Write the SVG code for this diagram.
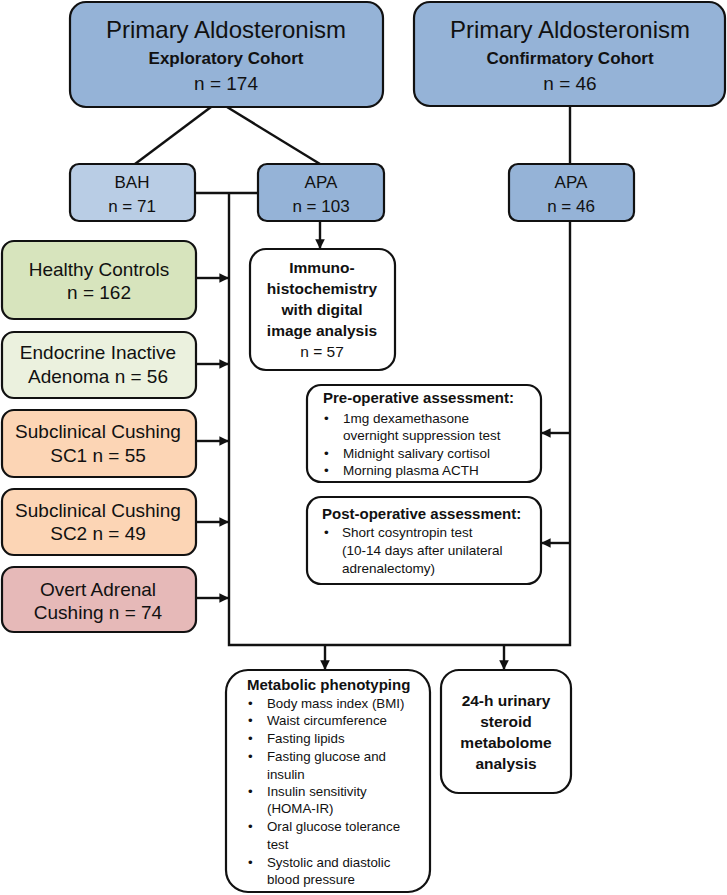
<svg xmlns="http://www.w3.org/2000/svg" width="727" height="895" viewBox="0 0 727 895">
<style>
.box{stroke:#111;stroke-width:2.2}
.t{font-family:"Liberation Sans",Arial,sans-serif;fill:#111}
.c{text-anchor:middle}
.b{font-weight:bold}
.ln{stroke:#111;stroke-width:2.4;fill:none}
</style>
<defs>
<marker id="ah" viewBox="0 0 10 10" refX="9" refY="5" markerWidth="4" markerHeight="4" orient="auto" markerUnits="strokeWidth">
<path d="M0,0 L10,5 L0,10 z" fill="#111"/>
</marker>
</defs>
<rect width="727" height="895" fill="#fff"/>

<g id="connectors">
<line class="ln" x1="211" y1="107" x2="135" y2="164"/>
<line class="ln" x1="227" y1="107" x2="320" y2="164"/>
<line class="ln" x1="570" y1="106" x2="570" y2="164"/>
<line class="ln" x1="195" y1="193" x2="258" y2="193"/>
<polyline class="ln" points="229,193 229,645 570,645 570,221"/>
<line class="ln" x1="320" y1="221" x2="320" y2="248" marker-end="url(#ah)"/>
<line class="ln" x1="196" y1="278" x2="228" y2="278" marker-end="url(#ah)"/>
<line class="ln" x1="196" y1="364" x2="228" y2="364" marker-end="url(#ah)"/>
<line class="ln" x1="196" y1="441" x2="228" y2="441" marker-end="url(#ah)"/>
<line class="ln" x1="196" y1="522" x2="228" y2="522" marker-end="url(#ah)"/>
<line class="ln" x1="196" y1="598" x2="228" y2="598" marker-end="url(#ah)"/>
<line class="ln" x1="570" y1="433" x2="542" y2="433" marker-end="url(#ah)"/>
<line class="ln" x1="570" y1="543" x2="542" y2="543" marker-end="url(#ah)"/>
<line class="ln" x1="325" y1="645" x2="325" y2="669" marker-end="url(#ah)"/>
<line class="ln" x1="504" y1="645" x2="504" y2="669" marker-end="url(#ah)"/>
</g>

<g id="pa-exploratory">
<rect class="box" x="70" y="2" width="313" height="105" rx="16" fill="#95B3D7"/>
<text class="t c" x="226" y="38" font-size="24">Primary Aldosteronism</text>
<text class="t c b" x="226" y="64" font-size="17">Exploratory Cohort</text>
<text class="t c" x="226" y="90" font-size="19">n = 174</text>
</g>

<g id="pa-confirmatory">
<rect class="box" x="414" y="2" width="311" height="104" rx="16" fill="#95B3D7"/>
<text class="t c" x="570" y="38" font-size="24">Primary Aldosteronism</text>
<text class="t c b" x="570" y="64" font-size="17">Confirmatory Cohort</text>
<text class="t c" x="570" y="90" font-size="19">n = 46</text>
</g>

<g id="bah">
<rect class="box" x="70" y="164" width="125" height="57" rx="9" fill="#B9CDE5"/>
<text class="t c" x="132" y="188" font-size="17">BAH</text>
<text class="t c" x="132" y="212" font-size="17">n = 71</text>
</g>

<g id="apa-exploratory">
<rect class="box" x="258" y="164" width="126" height="57" rx="9" fill="#95B3D7"/>
<text class="t c" x="321" y="188" font-size="17">APA</text>
<text class="t c" x="321" y="212" font-size="17">n = 103</text>
</g>

<g id="apa-confirmatory">
<rect class="box" x="509" y="164" width="125" height="57" rx="9" fill="#95B3D7"/>
<text class="t c" x="571" y="188" font-size="17">APA</text>
<text class="t c" x="571" y="212" font-size="17">n = 46</text>
</g>

<g id="healthy-controls">
<rect class="box" x="2" y="241" width="194" height="78" rx="12" fill="#D7E4BD"/>
<text class="t c" x="99" y="276" font-size="19">Healthy Controls</text>
<text class="t c" x="99" y="299" font-size="19">n = 162</text>
</g>

<g id="endocrine-inactive">
<rect class="box" x="2" y="332" width="194" height="66" rx="12" fill="#EBF1DE"/>
<text class="t c" x="98" y="359" font-size="19">Endocrine Inactive</text>
<text class="t c" x="98" y="383" font-size="19">Adenoma n = 56</text>
</g>

<g id="sc1">
<rect class="box" x="2" y="410" width="194" height="67" rx="12" fill="#FCD5B5"/>
<text class="t c" x="98" y="438" font-size="19">Subclinical Cushing</text>
<text class="t c" x="98" y="462" font-size="19">SC1 n = 55</text>
</g>

<g id="sc2">
<rect class="box" x="2" y="489" width="194" height="66" rx="12" fill="#FCD5B5"/>
<text class="t c" x="98" y="517" font-size="19">Subclinical Cushing</text>
<text class="t c" x="98" y="540" font-size="19">SC2 n = 49</text>
</g>

<g id="overt-cushing">
<rect class="box" x="2" y="567" width="194" height="65" rx="12" fill="#E6B9B8"/>
<text class="t c" x="98" y="596" font-size="19">Overt Adrenal</text>
<text class="t c" x="98" y="619" font-size="19">Cushing n = 74</text>
</g>

<g id="immuno">
<rect class="box" x="250" y="249" width="145" height="121" rx="16" fill="#fff"/>
<text class="t c b" x="322" y="273" font-size="15.5">Immuno-</text>
<text class="t c b" x="322" y="294" font-size="15.5">histochemistry</text>
<text class="t c b" x="322" y="315" font-size="15.5">with digital</text>
<text class="t c b" x="322" y="336" font-size="15.5">image analysis</text>
<text class="t c" x="322" y="357" font-size="15.5">n = 57</text>
</g>

<g id="pre-op">
<rect class="box" x="307" y="385" width="234" height="97" rx="14" fill="#fff"/>
<text class="t b" x="323" y="403" font-size="15">Pre-operative assessment:</text>
<g class="t" font-size="13.5">
<text x="324" y="423">•</text><text x="343" y="423">1mg dexamethasone</text>
<text x="343" y="440">overnight suppression test</text>
<text x="324" y="458">•</text><text x="343" y="458">Midnight salivary cortisol</text>
<text x="324" y="475">•</text><text x="343" y="475">Morning plasma ACTH</text>
</g>
</g>

<g id="post-op">
<rect class="box" x="307" y="497" width="234" height="87" rx="14" fill="#fff"/>
<text class="t b" x="322" y="519" font-size="15">Post-operative assessment:</text>
<g class="t" font-size="13.5">
<text x="324" y="537">•</text><text x="342" y="537">Short cosyntropin test</text>
<text x="342" y="555">(10-14 days after unilateral</text>
<text x="342" y="573">adrenalectomy)</text>
</g>
</g>

<g id="metabolic">
<rect class="box" x="226" y="670" width="204" height="222" rx="22" fill="#fff"/>
<text class="t b" x="247" y="690" font-size="15">Metabolic phenotyping</text>
<g class="t" font-size="13.3">
<text x="248" y="708">•</text><text x="267" y="708">Body mass index (BMI)</text>
<text x="248" y="725">•</text><text x="267" y="725">Waist circumference</text>
<text x="248" y="743">•</text><text x="267" y="743">Fasting lipids</text>
<text x="248" y="761">•</text><text x="267" y="761">Fasting glucose and</text>
<text x="267" y="779">insulin</text>
<text x="248" y="796">•</text><text x="267" y="796">Insulin sensitivity</text>
<text x="267" y="813">(HOMA-IR)</text>
<text x="248" y="831">•</text><text x="267" y="831">Oral glucose tolerance</text>
<text x="267" y="849">test</text>
<text x="248" y="867">•</text><text x="267" y="867">Systolic and diastolic</text>
<text x="267" y="884">blood pressure</text>
</g>
</g>

<g id="urinary">
<rect class="box" x="441" y="670" width="130" height="123" rx="18" fill="#fff"/>
<text class="t c b" x="506" y="706" font-size="15.5">24-h urinary</text>
<text class="t c b" x="506" y="727" font-size="15.5">steroid</text>
<text class="t c b" x="506" y="748" font-size="15.5">metabolome</text>
<text class="t c b" x="506" y="769" font-size="15.5">analysis</text>
</g>
</svg>
